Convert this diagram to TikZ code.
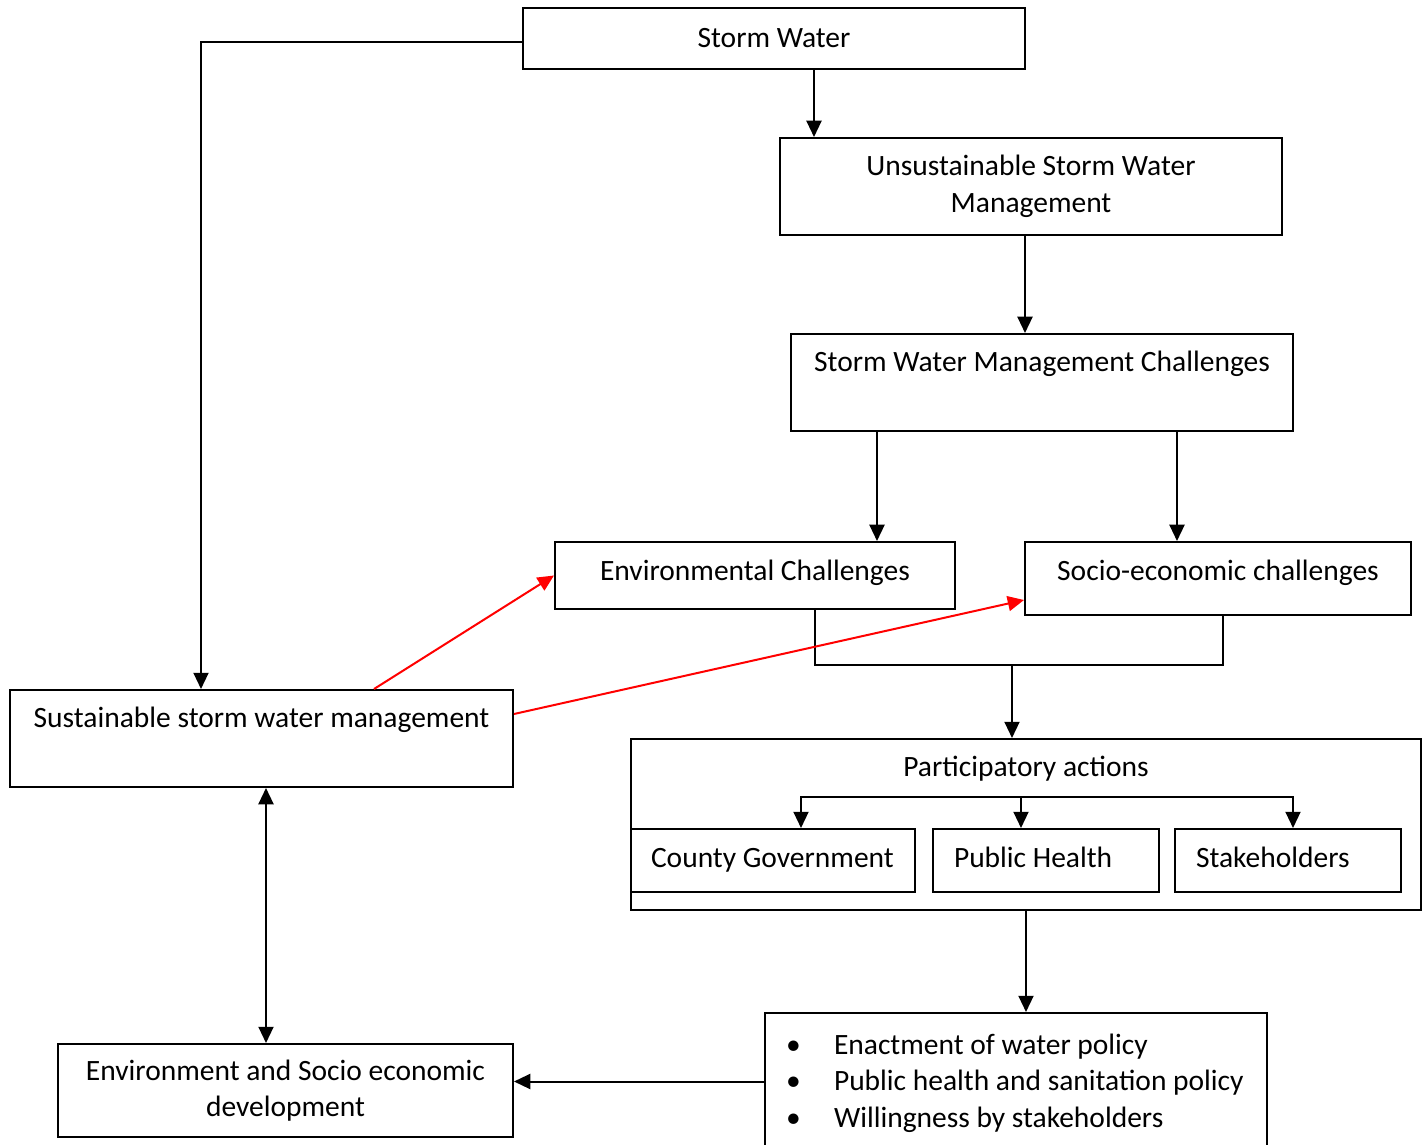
\documentclass[tikz,border=0pt]{standalone}
\usepackage{fontspec}
\setmainfont{Carlito}
\usepackage{tikz}
\usetikzlibrary{arrows.meta}

\newcommand{\natsp}{\spaceskip=0pt\xspaceskip=0pt\relax}

\begin{document}
\begin{tikzpicture}%
                [x=0.4pt,
                y=-0.4pt,
                every node/.style={font=\fontsize{11.8}{14.65}\selectfont},
                box/.style={draw=black, line width=0.8pt, align=center, inner sep=0pt},
                leftbox/.style={box, align=left, minimum height=25.2pt, text height=8.4pt, text depth=2.6pt},
                heading/.style={inner sep=0pt},
                plainline/.style={color=black, line width=0.8pt},
                conn/.style={plainline, -{Triangle[length=6.5pt,width=6pt]}},
                dblconn/.style={plainline, {Triangle[length=6.5pt,width=6pt]}-{Triangle[length=6.5pt,width=6pt]}},
                redconn/.style={conn, color=red}]

            \useasboundingbox (0,0) rectangle (1427,1145);
            %%
            %% Drawing the boxes
            %%
            \node[box, minimum width=200.8pt, minimum height=24.4pt] (sw) at (774,38.5) {Storm Water};
            \node[box, minimum width=200.8pt, minimum height=38.8pt] (usw) at (1031,186.5) {Unsustainable Storm Water\\Management};
            \node[box, minimum width=200.8pt, minimum height=38.8pt] (swmc) at (1042,382.5) {\strut Storm Water Management Challenges\\\strut};
            \node[box, minimum width=160pt, minimum height=26.8pt, text depth=4pt] (env) at (755,575.5) {Environmental Challenges};
            \node[box, minimum width=154.4pt, minimum height=29.2pt, text depth=6.5pt] (soc) at (1218,578.5) {Socio-economic challenges};
            \node[box, minimum width=201.2pt, minimum height=38.8pt] (ssm) at (261.5,738.5) {\strut Sustainable storm water management\\\strut};
            \node[box, minimum width=316pt, minimum height=68.4pt] (pa) at (1026,824.5) {};
            \node[heading] (patext) at (1026,769) {Participatory actions};
            \node[leftbox, text width=113.6pt] (cg) at (773,860.5) {\natsp\hspace*{8pt}County Government};
            \node[leftbox, text width=90.4pt] (ph) at (1046,860.5) {\natsp\hspace*{8.4pt}Public Health};
            \node[leftbox, text width=90.4pt] (st) at (1288,860.5) {\natsp\hspace*{8.4pt}Stakeholders};
            \node[box, align=left, text width=200.8pt, minimum height=56pt] (bl) at (1016,1083)
                {\natsp\hspace*{8.4pt}\makebox[19.2pt][l]{\textbullet}Enactment of water policy\\
                 \hspace*{8.4pt}\makebox[19.2pt][l]{\textbullet}Public health and sanitation policy\\
                 \hspace*{8.4pt}\makebox[19.2pt][l]{\textbullet}Willingness by stakeholders};
            \node[box, minimum width=182pt, minimum height=37.2pt] (esd) at (285.5,1090.5) {Environment and Socio economic\\development};
            %%
            %% Drawing the connectors
            %%
            \coordinate (leftrun) at (201,0);
            \coordinate (c1) at (814,0);
            \coordinate (c2) at (1025,0);
            \coordinate (c3) at (877,0);
            \coordinate (c4) at (1177,0);
            \coordinate (c5) at (374,0);
            \coordinate (c6) at (266,0);
            \coordinate (brk) at (815,665);
            \coordinate (mid) at (1012,665);
            \coordinate (pl) at (801,797);
            \coordinate (pm) at (1021,797);
            \coordinate (pr) at (1293,797);

            \draw[conn] ([yshift=-1.4pt]sw.west) -- ([yshift=-1.4pt]sw.west -| leftrun) -- (leftrun |- ssm.north);
            \draw[conn] (sw.south -| c1) -- (usw.north -| c1);
            \draw[conn] (usw.south -| c2) -- (swmc.north -| c2);
            \draw[conn] (swmc.south -| c3) -- (env.north -| c3);
            \draw[conn] (swmc.south -| c4) -- (soc.north -| c4);
            \draw[plainline] (env.south -| brk) -- (brk) -| ([xshift=2pt]soc.south);
            \draw[conn] (mid) -- (mid |- pa.north);
            %% red links
            \draw[redconn] (ssm.north -| c5) -- (env.west);
            \draw[redconn] ([yshift=9.8pt]ssm.east) -- ([yshift=-8.6pt]soc.west);
            %% participatory actions
            \draw[dblconn] (pl |- cg.north) -- (pl) -- (pr) -- (pr |- st.north);
            \draw[conn] (pm) -- (pm |- ph.north);
            \draw[conn] (pa.south) -- (pa.south |- bl.north);
            \draw[conn] ([yshift=0.6pt]bl.west) -- ([yshift=0.6pt]bl.west -| esd.east);
            \draw[dblconn] (ssm.south -| c6) -- (esd.north -| c6);
            %%
\end{tikzpicture}
\end{document}
